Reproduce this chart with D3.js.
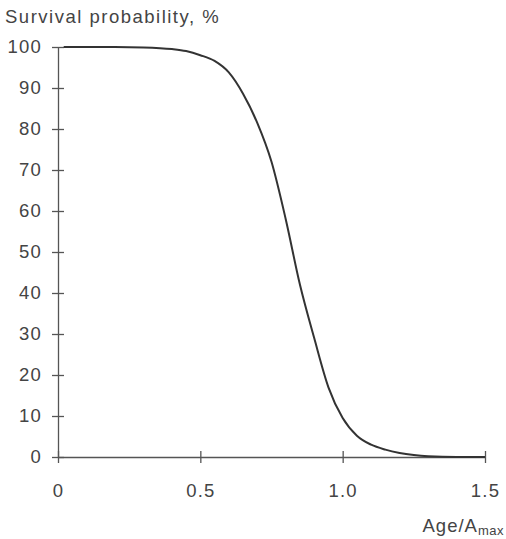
<!DOCTYPE html>
<html>
<head>
<meta charset="utf-8">
<script src="https://cdn.jsdelivr.net/npm/d3@7"></script>
<style>
  body { margin: 0; background: #fff; }
  text { font-family: "Liberation Sans", Arial, sans-serif; fill: #444; }
</style>
</head>
<body>
<div id="chart"></div>
<script>
// Data
const ages = [0.02, 0.1, 0.2, 0.3, 0.4, 0.45, 0.5, 0.55, 0.6, 0.65, 0.7, 0.75, 0.8, 0.85, 0.9, 0.95, 1.0, 1.05, 1.1, 1.15, 1.2, 1.25, 1.3, 1.4, 1.5];
const survival = [100, 100, 100, 99.9, 99.5, 99, 98, 96.6, 93.8, 88.6, 81.5, 72, 58, 42, 29, 17, 9.5, 5.2, 3, 1.8, 1, 0.5, 0.2, 0, 0];
const xTicks = [0, 0.5, 1.0, 1.5];
const xTickLabels = ['0', '0.5', '1.0', '1.5'];
const yTicks = [0, 10, 20, 30, 40, 50, 60, 70, 80, 90, 100];

// Size
var width = 506;
var height = 539;

var svg = d3.select('#chart').append('svg')
  .attr('width', width)
  .attr('height', height);

// Scales
var x = d3.scaleLinear().domain([0, 1.5]).range([58, 485]);
var y = d3.scaleLinear().domain([0, 100]).range([457, 47]);

var axisColor = '#555';

// Y axis (ticks cross the line)
var yAxis = svg.append('g')
  .attr('transform', 'translate(' + x(0) + ',0)')
  .call(d3.axisLeft(y).tickValues(yTicks).tickSize(0).tickPadding(16).tickFormat(d3.format('d')));
yAxis.select('.domain').attr('stroke', axisColor).attr('stroke-width', 1.3);
yAxis.selectAll('.tick').append('line')
  .attr('x1', -6).attr('x2', 6)
  .attr('stroke', axisColor).attr('stroke-width', 1.3);
yAxis.selectAll('.tick text')
  .attr('font-size', 18.5)
  .attr('letter-spacing', 1.2)
  .attr('fill', '#444');

// X axis
var xAxis = svg.append('g')
  .attr('transform', 'translate(0,' + y(0) + ')')
  .call(d3.axisBottom(x).tickValues(xTicks).tickSize(0).tickPadding(27)
    .tickFormat((d, i) => xTickLabels[i]));
xAxis.select('.domain').attr('stroke', axisColor).attr('stroke-width', 1.3);
xAxis.selectAll('.tick').append('line')
  .attr('y1', -6).attr('y2', 6)
  .attr('stroke', axisColor).attr('stroke-width', 1.3);
xAxis.selectAll('.tick text')
  .attr('font-size', 18.5)
  .attr('letter-spacing', 1.2)
  .attr('fill', '#444');

// Survival curve
var points = ages.map((a, i) => [a, survival[i]]);
var line = d3.line()
  .x(d => x(d[0]))
  .y(d => y(d[1]))
  .curve(d3.curveMonotoneX);

svg.append('path')
  .datum(points)
  .attr('d', line)
  .attr('fill', 'none')
  .attr('stroke', '#333')
  .attr('stroke-width', 2);

// Axis titles
svg.append('text')
  .attr('x', 5)
  .attr('y', 23)
  .attr('font-size', 18.5)
  .attr('letter-spacing', 1.5)
  .text('Survival probability, %');

var xTitle = svg.append('text')
  .attr('x', 504)
  .attr('y', 532)
  .attr('text-anchor', 'end')
  .attr('font-size', 18.5)
  .attr('letter-spacing', 1);
xTitle.append('tspan').text('Age/A');
xTitle.append('tspan').attr('font-size', 13).attr('dy', 3).attr('letter-spacing', 0.5).text('max');
</script>
</body>
</html>
